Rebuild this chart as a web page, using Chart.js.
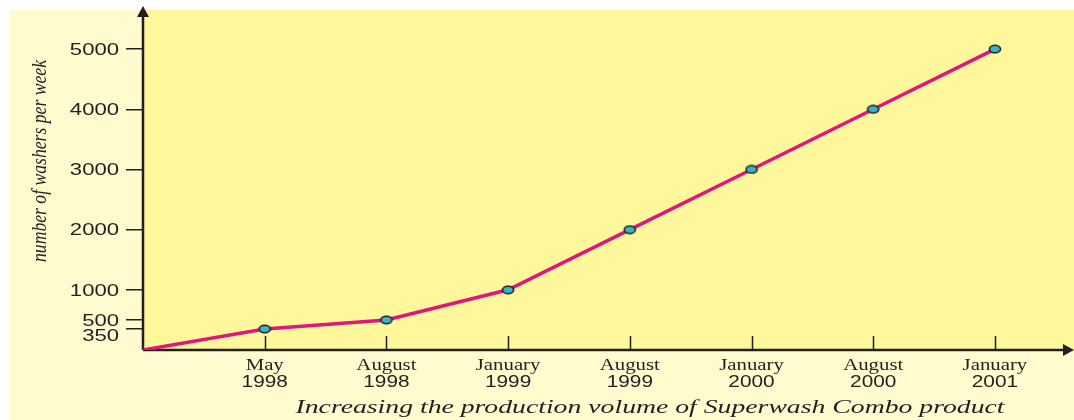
<!DOCTYPE html>
<html>
<head>
<meta charset="utf-8">
<script src="https://cdn.jsdelivr.net/npm/chart.js@4"></script>
<style>
  html, body { margin: 0; padding: 0; background: #fff; }
  #wrap { width: 1074px; height: 420px; }
</style>
</head>
<body>
<div id="wrap"><canvas id="washers"></canvas></div>
<script>
// production volume, washers per week
const months = ['May', 'August', 'January', 'August', 'January', 'August', 'January'];
const years = ['1998', '1998', '1999', '1999', '2000', '2000', '2001'];
const washersPerWeek = [350, 500, 1000, 2000, 3000, 4000, 5000];
const yTicks = [350, 500, 1000, 2000, 3000, 4000, 5000];

const yTitle = 'number of washers per week';
const caption = 'Increasing the production volume of Superwash Combo product';

const ink = '#231f20';
const WIDE = 1.3; // horizontal stretch used for all lettering

// line starts from the origin, then one point per period
const points = [{ x: 0, y: 0 }].concat(washersPerWeek.map((v, i) => ({ x: i + 1, y: v })));

// oval marker
const marker = document.createElement('canvas');
marker.width = 14;
marker.height = 10;
(function () {
    const m = marker.getContext('2d');
    m.beginPath();
    m.ellipse(7, 5, 5.6, 3.8, 0, 0, Math.PI * 2);
    m.fillStyle = '#3ab5c8';
    m.fill();
    m.lineWidth = 1.6;
    m.strokeStyle = ink;
    m.stroke();
})();

function wideText(ctx, text, x, y, align) {
    ctx.save();
    ctx.translate(x, y);
    ctx.scale(WIDE, 1);
    ctx.textAlign = align;
    ctx.fillText(text, 0, 0);
    ctx.restore();
}

const decor = {
    id: 'decor',
    beforeDraw(chart) {
        const { ctx, chartArea: a, width, height } = chart;
        ctx.save();
        ctx.fillStyle = '#ffffff';
        ctx.fillRect(0, 0, width, height);
        ctx.fillStyle = '#fffbcf';
        ctx.fillRect(10, 10, width - 10, height - 10);
        ctx.fillStyle = '#fff79c';
        ctx.fillRect(a.left, a.top, width - a.left, a.bottom - a.top);
        ctx.restore();
    },
    beforeDatasetsDraw(chart) {
        const { ctx, chartArea: a, width, scales } = chart;
        ctx.save();
        ctx.strokeStyle = ink;
        ctx.fillStyle = ink;
        ctx.lineWidth = 2.5;
        // axes
        ctx.beginPath();
        ctx.moveTo(a.left, a.bottom);
        ctx.lineTo(a.left, 14);
        ctx.moveTo(a.left, a.bottom);
        ctx.lineTo(width - 8, a.bottom);
        ctx.stroke();
        // arrow heads
        ctx.beginPath();
        ctx.moveTo(a.left, 6);
        ctx.lineTo(a.left - 6, 17);
        ctx.lineTo(a.left + 6, 17);
        ctx.closePath();
        ctx.fill();
        ctx.beginPath();
        ctx.moveTo(width, a.bottom);
        ctx.lineTo(width - 11, a.bottom - 6);
        ctx.lineTo(width - 11, a.bottom + 6);
        ctx.closePath();
        ctx.fill();
        // x ticks pointing into the plot
        ctx.lineWidth = 1.5;
        ctx.beginPath();
        months.forEach((m, i) => {
            const x = Math.round(scales.x.getPixelForValue(i + 1)) + 0.5;
            ctx.moveTo(x, a.bottom);
            ctx.lineTo(x, a.bottom - 14);
        });
        ctx.stroke();
        ctx.restore();
    },
    afterDraw(chart) {
        const { ctx, chartArea: a, scales } = chart;
        ctx.save();
        ctx.fillStyle = ink;
        ctx.textBaseline = 'middle';

        // y labels, pushed apart where two would collide
        ctx.font = '17px "Liberation Sans"';
        let prev;
        yTicks.slice().sort((p, q) => q - p).forEach(v => {
            let y = scales.y.getPixelForValue(v);
            if (prev !== undefined && y - prev < 15) y = prev + 15;
            prev = y;
            wideText(ctx, String(v), a.left - 24, y + 1, 'right');
        });

        // two-line period labels
        months.forEach((m, i) => {
            const x = scales.x.getPixelForValue(i + 1);
            ctx.font = '16px "Liberation Serif"';
            wideText(ctx, m, x, a.bottom + 16, 'center');
            ctx.font = '16px "Liberation Sans"';
            wideText(ctx, years[i], x, a.bottom + 33, 'center');
        });

        // caption
        ctx.font = 'italic 18px "Liberation Serif"';
        ctx.textBaseline = 'alphabetic';
        ctx.textAlign = 'center';
        const cw = ctx.measureText(caption).width;
        ctx.save();
        ctx.translate(650, 413);
        ctx.scale(709 / cw, 1);
        ctx.fillText(caption, 0, 0);
        ctx.restore();

        // rotated axis title
        ctx.translate(40, 161);
        ctx.rotate(-Math.PI / 2);
        ctx.font = 'italic 17px "Liberation Serif"';
        const w = ctx.measureText(yTitle).width;
        ctx.scale(202 / w, 1.25);
        ctx.textBaseline = 'middle';
        ctx.fillText(yTitle, 0, 0);
        ctx.restore();
    }
};

new Chart(document.getElementById('washers'), {
    type: 'line',
    data: {
        datasets: [{
            data: points,
            borderColor: '#e0177a',
            borderWidth: 3.5,
            tension: 0,
            pointStyle: marker,
            pointRadius: points.map(p => (p.x === 0 ? 0 : 5))
        }]
    },
    options: {
        responsive: true,
        maintainAspectRatio: false,
        animation: false,
        layout: { padding: { top: 10, right: 6, left: 0, bottom: 0 } },
        plugins: { legend: { display: false }, tooltip: { enabled: false } },
        scales: {
            x: {
                type: 'linear',
                min: 0,
                max: 7.58,
                grid: { display: false },
                border: { display: false },
                ticks: { display: false },
                afterFit(s) { s.height = 70; }
            },
            y: {
                min: 0,
                max: 5650,
                afterBuildTicks(s) { s.ticks = yTicks.map(v => ({ value: v })); },
                grid: { drawOnChartArea: false, drawTicks: true, tickLength: 17, color: ink, lineWidth: 1.5 },
                border: { display: false },
                ticks: { display: false },
                afterFit(s) { s.width = 143; }
            }
        }
    },
    plugins: [decor]
});
</script>
</body>
</html>
